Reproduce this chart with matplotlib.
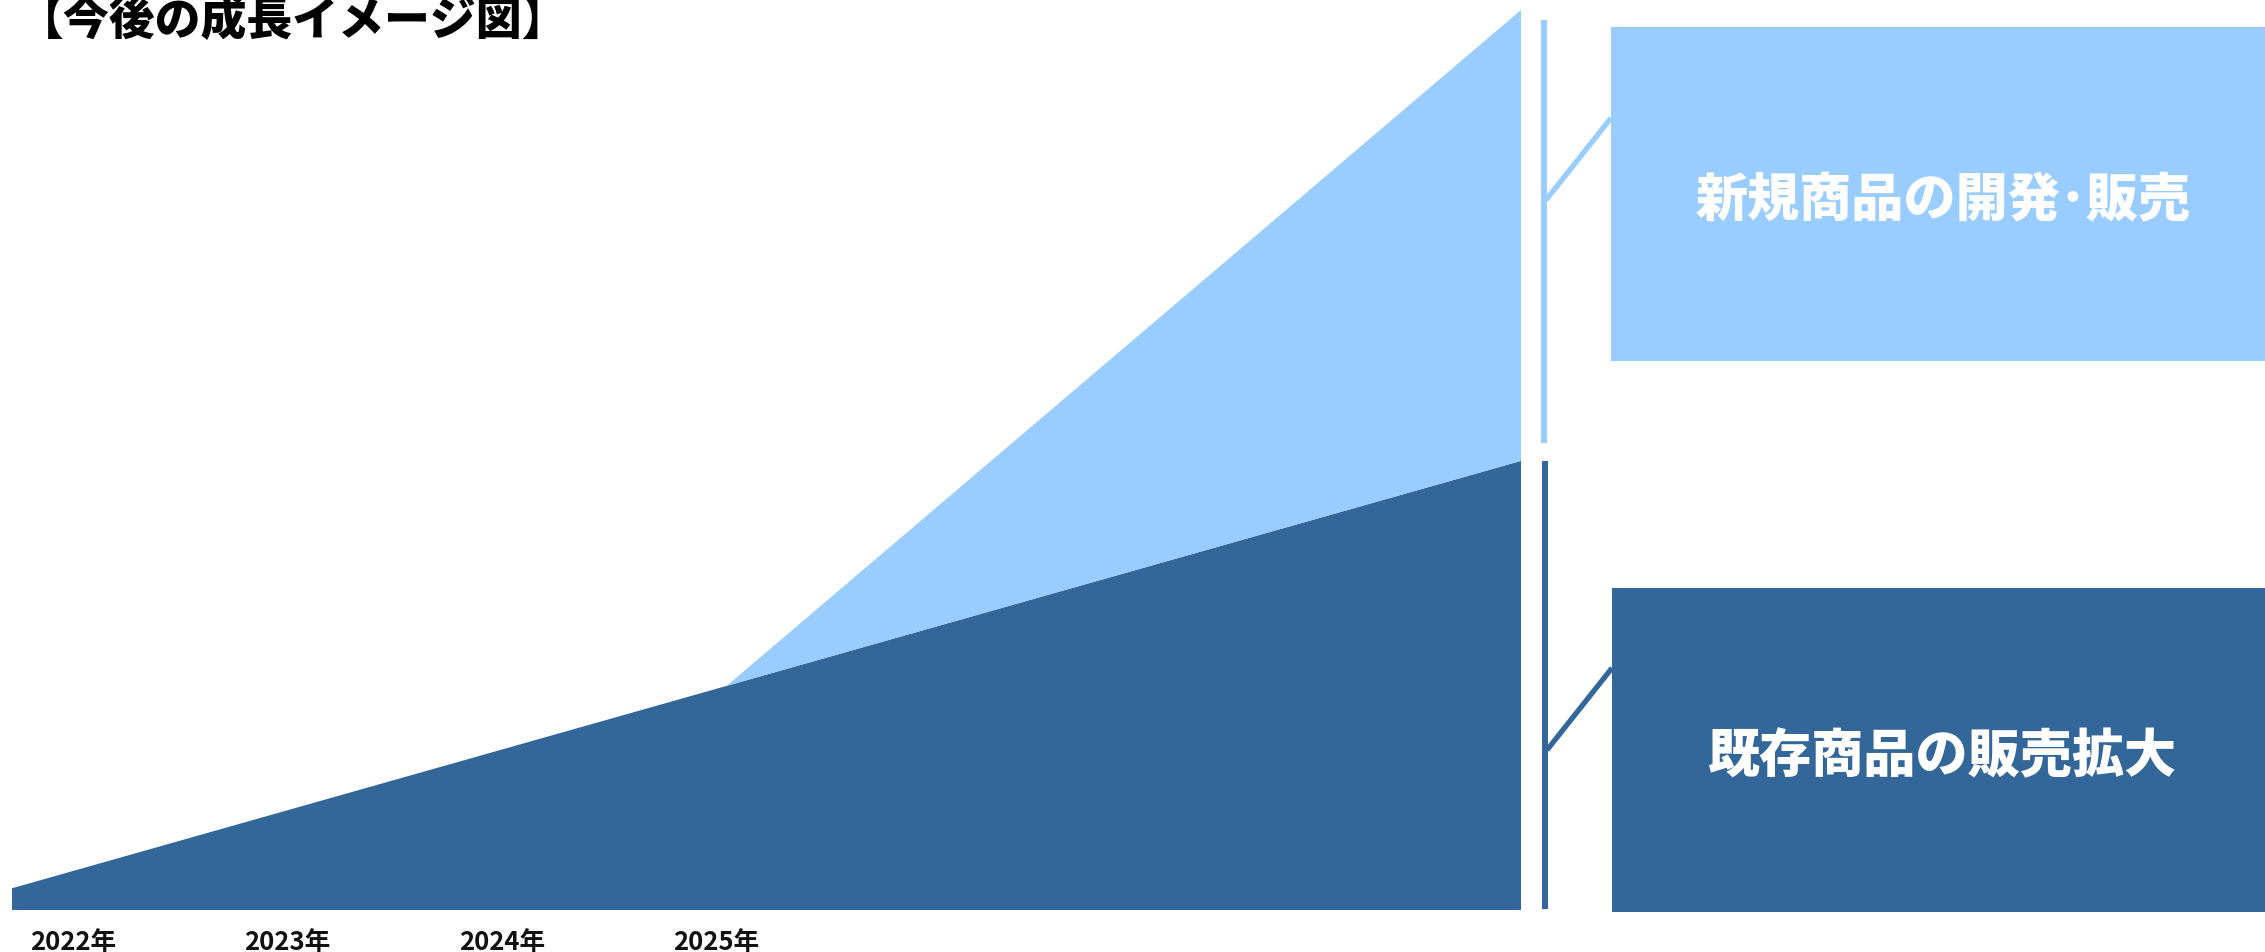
import matplotlib
matplotlib.use("Agg")
import matplotlib.pyplot as plt
from matplotlib.patches import Rectangle
import numpy as np

plt.rcParams['font.family'] = ['Noto Sans CJK JP', 'DejaVu Sans']

# ---- data ----
title = "【今後の成長イメージ図】"
tick_years = [2022, 2023, 2024, 2025]
tick_labels = ["2022年", "2023年", "2024年", "2025年"]
area_x = [2021.71, 2025.05, 2028.76]
existing = [2.4, 24.9, 49.9]       # 既存商品
new_products = [0.0, 0.0, 50.1]    # 新規商品
label_new = "新規商品の開発･販売"
label_existing = "既存商品の販売拡大"

LIGHT = "#99CCFF"
DARK = "#336699"

W, H = 2265, 952
fig = plt.figure(figsize=(W / 100, H / 100), dpi=100)
fig.patch.set_facecolor("white")

# axes placement (pixels)
ax_l, ax_r, ax_b, ax_t = 11.5, 1521, 910, 10
ax = fig.add_axes([ax_l / W, (H - ax_b) / H, (ax_r - ax_l) / W, (ax_b - ax_t) / H])
ax.stackplot(area_x, existing, new_products, colors=[DARK, LIGHT], linewidth=0)
ax.set_xlim(area_x[0], area_x[-1])
total_max = existing[-1] + new_products[-1]
ax.set_ylim(0, total_max)
for s in ax.spines.values():
    s.set_visible(False)
ax.set_yticks([])
ax.set_xticks(tick_years)
ax.set_xticklabels(tick_labels, fontsize=18.5, fontweight="bold", color="#111111")
ax.tick_params(axis="x", length=0, pad=14)

# pixel -> data helpers for annotation layout
pxu_x = (ax_r - ax_l) / (area_x[-1] - area_x[0])
pxu_y = (ax_b - ax_t) / total_max
x_end = area_x[-1]
def dx(px):
    return x_end + px / pxu_x
def dy(py):
    return py / pxu_y

top_val = existing[-1] + new_products[-1]
mid_val = existing[-1]

# brackets
ax.plot([dx(22.7), dx(22.7)], [mid_val + dy(18), top_val - dy(10)], color=LIGHT,
        lw=4.3, solid_capstyle="butt", clip_on=False)
ax.plot([dx(23.5), dx(23.5)], [0.1, mid_val], color=DARK,
        lw=4.3, solid_capstyle="butt", clip_on=False)
# diagonals
ax.plot([dx(25), dx(90)], [dy(710), dy(792)], color=LIGHT, lw=3.8,
        solid_capstyle="butt", clip_on=False)
ax.plot([dx(26), dx(91)], [dy(160), dy(242)], color=DARK, lw=3.8,
        solid_capstyle="butt", clip_on=False)

# boxes
ax.add_patch(Rectangle((dx(90), dy(549)), 800 / pxu_x, dy(334), facecolor=LIGHT,
                       edgecolor="none", clip_on=False))
ax.add_patch(Rectangle((dx(91), dy(-2)), 800 / pxu_x, dy(324), facecolor=DARK,
                       edgecolor="none", clip_on=False))
ax.text(dx(422), dy(709), label_new, color="white", fontsize=37.5, fontweight=900,
        ha="center", va="center", clip_on=False)
ax.text(dx(422), dy(153), label_existing, color="white", fontsize=37.5, fontweight=900,
        ha="center", va="center", clip_on=False)

# title
fig.text(18 / W, 1 - 21 / H, title, fontsize=33, fontweight=900, color="black",
         ha="left", va="center")

fig.savefig("out.png", dpi=100, facecolor="white")
